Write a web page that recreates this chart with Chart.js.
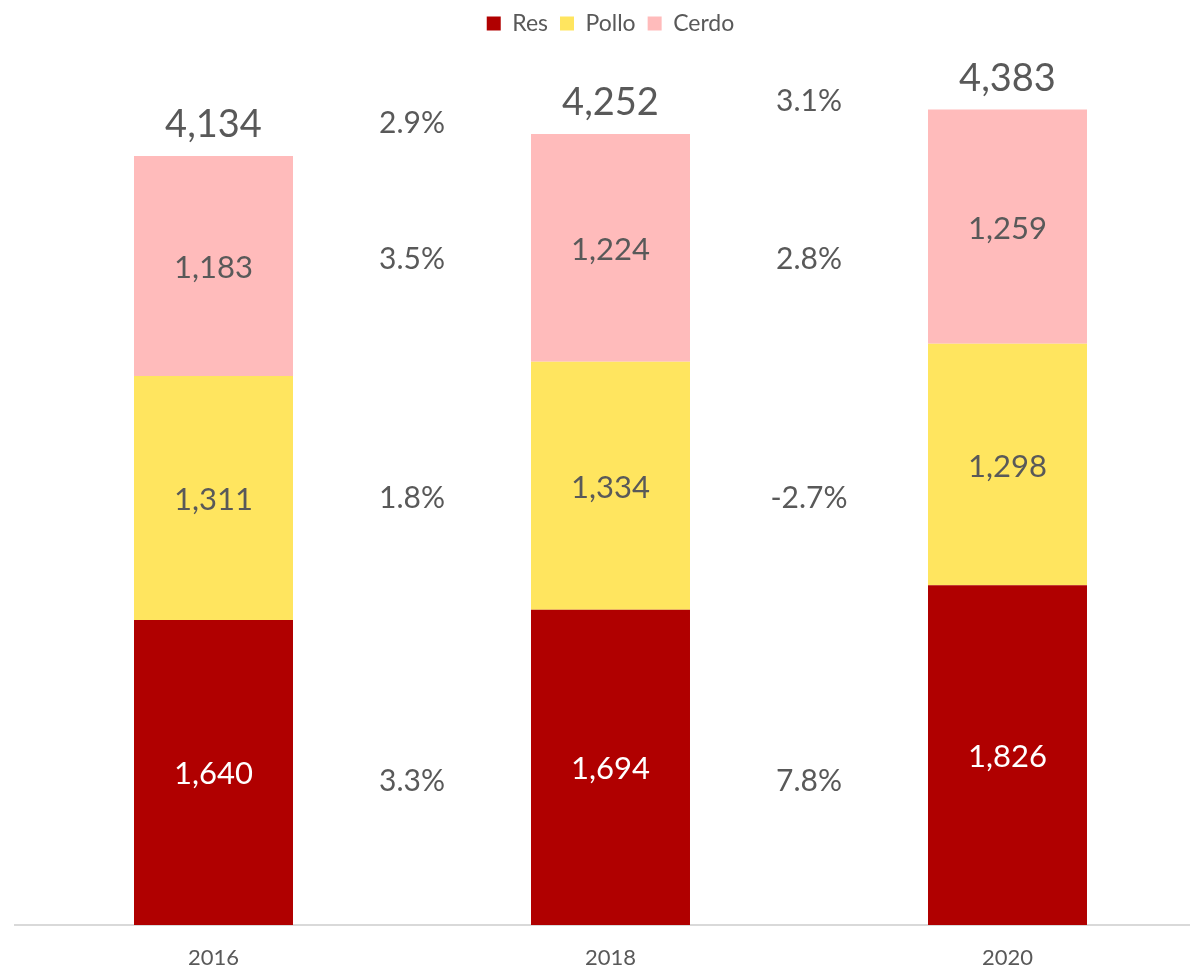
<!DOCTYPE html>
<html>
<head>
<meta charset="utf-8">
<script src="https://cdn.jsdelivr.net/npm/chart.js@4/dist/chart.umd.min.js"></script>
<style>
  html, body { margin: 0; padding: 0; background: #fff; overflow: hidden; }
  #wrap { width: 1190px; height: 967px; overflow: hidden; }
</style>
</head>
<body>
<div id="wrap"><canvas id="chart" width="1206" height="967"></canvas></div>
<script>
const years = ['2016', '2018', '2020'];
const res = [1640, 1694, 1826];
const pollo = [1311, 1334, 1298];
const cerdo = [1183, 1224, 1259];
const totals = [4134, 4252, 4383];

// variaciones entre años (columna entre barras)
const varRes = ['3.3%', '7.8%'];
const varPollo = ['1.8%', '-2.7%'];
const varCerdo = ['3.5%', '2.8%'];
const varTotal = ['2.9%', '3.1%'];

const textGray = '#595959';
const fontFamily = 'Lato, "Open Sans", sans-serif';
const fmt = (v) => v.toLocaleString('en-US');

//-----------------------
const labelsPlugin = {
    id: 'labelsPlugin',
    afterDatasetsDraw: (chart) => {
        const ctx = chart.ctx;
        const x = chart.scales.x;
        ctx.save();
        ctx.textAlign = 'center';
        ctx.textBaseline = 'middle';

        // valores dentro de cada segmento
        chart.data.datasets.forEach((ds, di) => {
            const meta = chart.getDatasetMeta(di);
            meta.data.forEach((bar, i) => {
                ctx.fillStyle = di === 0 ? '#ffffff' : textGray;
                ctx.font = `31px ${fontFamily}`;
                ctx.fillText(fmt(ds.data[i]), bar.x, (bar.y + bar.base) / 2 + 2);
            });
        });

        // totales arriba de cada barra
        const top = chart.getDatasetMeta(2);
        top.data.forEach((bar, i) => {
            ctx.fillStyle = textGray;
            ctx.font = `38px ${fontFamily}`;
            ctx.fillText(fmt(totals[i]), bar.x, bar.y - 31);
        });

        // variaciones: alineadas con los segmentos de la primera barra
        const first = [0, 1, 2].map(d => chart.getDatasetMeta(d).data[0]);
        const rows = [varRes, varPollo, varCerdo];
        const nudge = [9, 0, -7];
        ctx.font = `30px ${fontFamily}`;
        ctx.fillStyle = textGray;
        for (let i = 0; i < years.length - 1; i++) {
            const cx = (x.getPixelForValue(i) + x.getPixelForValue(i + 1)) / 2;
            rows.forEach((row, r) => {
                const b = first[r];
                ctx.fillText(row[i], cx, (b.y + b.base) / 2 + nudge[r]);
            });
            ctx.fillText(varTotal[i], cx, top.data[i].y - 33);
        }
        ctx.restore();
    }
};

const chart = new Chart(document.getElementById('chart'), {
    type: 'bar',
    data: {
        labels: years,
        datasets: [
            { label: 'Res', data: res, backgroundColor: '#B00000' },
            { label: 'Pollo', data: pollo, backgroundColor: '#FFE55F' },
            { label: 'Cerdo', data: cerdo, backgroundColor: '#FFBBBB' }
        ]
    },
    options: {
        responsive: false,
        animation: false,
        layout: { padding: { left: 15, right: 0, top: 0, bottom: 0 } },
        datasets: {
            bar: { barPercentage: 0.4005, categoryPercentage: 1 }
        },
        plugins: {
            legend: {
                position: 'top',
                labels: {
                    boxWidth: 14,
                    boxHeight: 14,
                    padding: 12,
                    color: textGray,
                    font: { family: fontFamily, size: 23 }
                }
            },
            tooltip: { enabled: false }
        },
        scales: {
            x: {
                stacked: true,
                grid: { display: false, drawTicks: false },
                border: { color: '#d9d9d9', width: 2 },
                ticks: {
                    color: textGray,
                    padding: 20,
                    font: { family: fontFamily, size: 22 }
                },
                afterFit: (scale) => { scale.height = 42; }
            },
            y: {
                stacked: true,
                display: false,
                min: 0,
                max: 4730
            }
        }
    },
    plugins: [labelsPlugin]
});
</script>
</body>
</html>
